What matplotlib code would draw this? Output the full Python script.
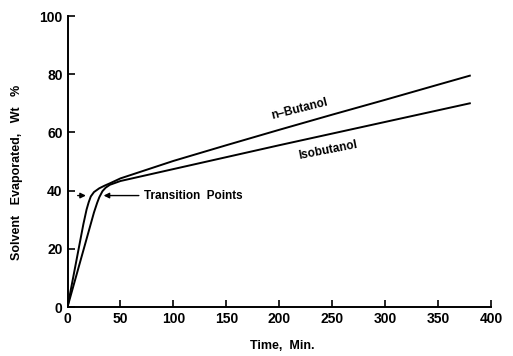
import matplotlib.pyplot as plt

plt.rcParams['font.family'] = ['Liberation Sans', 'DejaVu Sans']

# evaporation curves, time in minutes vs wt % evaporated
t_nbut = [0, 5, 10, 15, 18, 20, 22, 25, 30, 35, 40, 50, 100, 150, 200, 250, 300, 350, 380]
y_nbut = [0, 9.5, 19, 28.5, 33.5, 36, 38, 39.5, 40.8, 41.7, 42.5, 44.2, 50.2, 55.6, 60.9, 66.1, 71.2, 76.4, 79.5]
t_iso = [0, 5, 10, 15, 20, 25, 28, 30, 33, 36, 40, 50, 100, 150, 200, 250, 300, 350, 380]
y_iso = [0, 6.5, 13, 19.5, 26, 32.5, 35.8, 37.7, 39.8, 41, 42, 43.3, 47.4, 51.5, 55.6, 59.6, 63.6, 67.6, 70]

xticks = [0, 50, 100, 150, 200, 250, 300, 350, 400]
yticks = [0, 20, 40, 60, 80, 100]

fig = plt.figure(figsize=(5.13, 3.56), dpi=100)
ax = fig.add_axes([0.1316, 0.1376, 0.8255, 0.8174])

ax.plot(t_nbut, y_nbut, color='black', linewidth=1.4)
ax.plot(t_iso, y_iso, color='black', linewidth=1.4)

ax.set_xlim(0, 400)
ax.set_ylim(0, 100)
ax.set_xticks(xticks)
ax.set_yticks(yticks)
ax.spines['top'].set_visible(False)
ax.spines['right'].set_visible(False)
ax.spines['left'].set_linewidth(1.4)
ax.spines['bottom'].set_linewidth(1.4)
ax.tick_params(direction='in', length=5, width=1.2, labelsize=10)
for lab in ax.get_xticklabels() + ax.get_yticklabels():
    lab.set_fontweight('bold')

ax.set_xlabel('Time,  Min.', fontsize=9, fontweight='bold')
ax.set_ylabel('Solvent   Evaporated,   Wt   %', fontsize=9, fontweight='bold')
ax.xaxis.set_label_coords(0.506, -0.115)
ax.yaxis.set_label_coords(-0.106, 0.464)

ax.text(219, 68, 'n\u2013Butanol', fontsize=8.5, fontweight='bold', rotation=14,
        ha='center', va='center')
ax.text(246, 54, 'Isobutanol', fontsize=8.5, fontweight='bold', rotation=11,
        ha='center', va='center')

# transition point markers
ax.text(72, 38.3, 'Transition  Points', fontsize=8.5, fontweight='bold', ha='left', va='center')
ax.annotate('', xy=(31.5, 38.3), xytext=(70, 38.3),
            arrowprops=dict(arrowstyle='-|>', color='black', lw=1.0, mutation_scale=8))
ax.annotate('', xy=(20, 38.3), xytext=(7, 38.3),
            arrowprops=dict(arrowstyle='-|>', color='black', lw=1.0, mutation_scale=8))

fig.savefig('out.png', dpi=100)
